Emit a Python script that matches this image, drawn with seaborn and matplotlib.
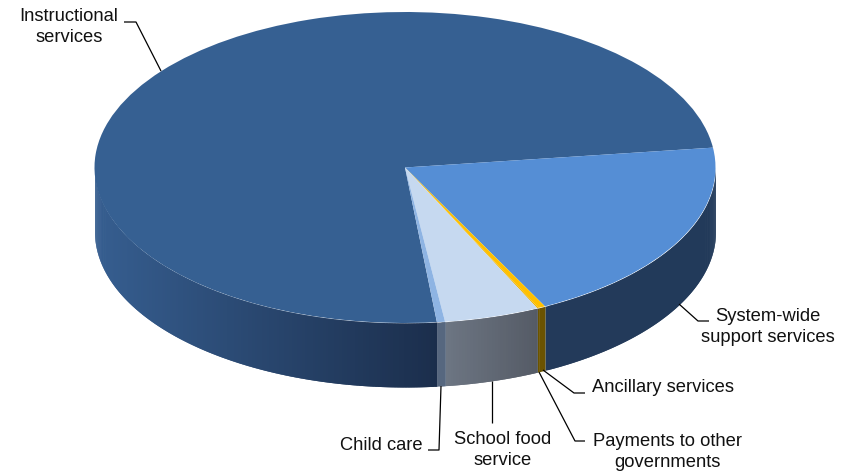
import matplotlib
matplotlib.use("Agg")
import matplotlib.pyplot as plt
import numpy as np
import seaborn as sns

categories = ["Instructional services", "System-wide support services", "Ancillary services",
              "Payments to other governments", "School food service", "Child care"]
shares = [74.6, 19.6, 0.36, 0.08, 4.94, 0.42]
top_colors = ["#366092", "#558ED5", "#FFC000", "#F0B400", "#C6D9F0", "#8EB4E3"]
# Wall shade at the left and right end of each visible stretch of the rim
wall_left = ["#365E90", "#233A5A", "#6B5300", "#6B5300", "#6D7683", "#56677F"]
wall_right = ["#1B2E4C", "#223A5A", "#6B5300", "#6B5300", "#555B66", "#56677F"]

W, H = 856, 474
CX, CY, RX, RY, DEPTH = 405, 167.5, 310.5, 155.5, 64
START_ANGLE = -84.1

sns.set_theme(style="white")
plt.rcParams["font.family"] = ["Liberation Sans", "DejaVu Sans"]

fig = plt.figure(figsize=(W / 100, H / 100), dpi=100)
ax = fig.add_axes([0, 0, 1, 1])

# Pie wedges live in unit-circle data space; the unequal axis scales flatten it to an ellipse.
wedges, _ = ax.pie(shares, colors=top_colors, startangle=START_ANGLE, counterclock=False,
                   radius=1, wedgeprops={"linewidth": 0, "zorder": 3})
ax.set_aspect("auto")
ax.set_xlim(-CX / RX, (W - CX) / RX)
ax.set_ylim((CY - H) / RY, CY / RY)
ax.set_frame_on(False)


def to_rgb(c):
    return np.array(matplotlib.colors.to_rgb(c))


# Rim wall: every slice contributes the part of its arc on the near half of the disc.
depth = DEPTH / RY
edges = START_ANGLE - np.cumsum([0] + shares) * 3.6
for i in range(len(shares)):
    hi, lo = edges[i], edges[i + 1]
    # Near half runs from -180 to 0 degrees, also reached at -540 to -360
    for base in (0, -360):
        a = max(lo, base - 180)
        b = min(hi, base)
        if b <= a:
            continue
        n = max(2, int((b - a) * 2))
        t = np.radians(np.linspace(a, b, n))
        order = np.argsort(np.cos(t))
        xs = np.cos(t)[order]
        ys = np.sin(t)[order]
        x0, x1 = xs[0], xs[-1]
        # Strips are painted left to right, each reaching over the next seam
        for k in range(n - 1):
            f = ((xs[k] + xs[k + 1]) / 2 - x0) / (x1 - x0)
            col = to_rgb(wall_left[i]) * (1 - f) + to_rgb(wall_right[i]) * f
            end = k + 2 if k == n - 2 else k + 3
            ax.fill_between(xs[k:end], ys[k:end], ys[k:end] - depth, color=col,
                            linewidth=0, zorder=2 + i * 0.01)


def px(x, y):
    return (x - CX) / RX, (CY - y) / RY


# Leader lines, given in figure pixels
leaders = [
    [(124, 22), (136, 22), (161, 71)],
    [(679, 304), (698, 321), (709, 321)],
    [(543, 370), (574, 393), (585, 393)],
    [(539, 372), (575, 441), (585, 441)],
    [(492, 381), (492, 423)],
    [(441, 386), (439, 450), (428, 450)],
]
for pts in leaders:
    xy = np.array([px(*p) for p in pts])
    ax.plot(xy[:, 0], xy[:, 1], color="black", lw=0.9, zorder=4, solid_capstyle="butt")

label_text = ["Instructional\nservices", "System-wide\nsupport services", "Ancillary services",
              "Payments to other\ngovernments", "School food\nservice", "Child care"]
label_pos = [(69, 27), (768, 327), (663, 388), (667, 452), (503, 450), (381, 445.5)]
for s, (x, y) in zip(label_text, label_pos):
    tx, ty = px(x, y)
    ax.text(tx, ty, s, ha="center", va="center", fontsize=13.2, color="#111111",
            linespacing=1.26, zorder=5)

fig.savefig("out.png", dpi=100, facecolor="white")
